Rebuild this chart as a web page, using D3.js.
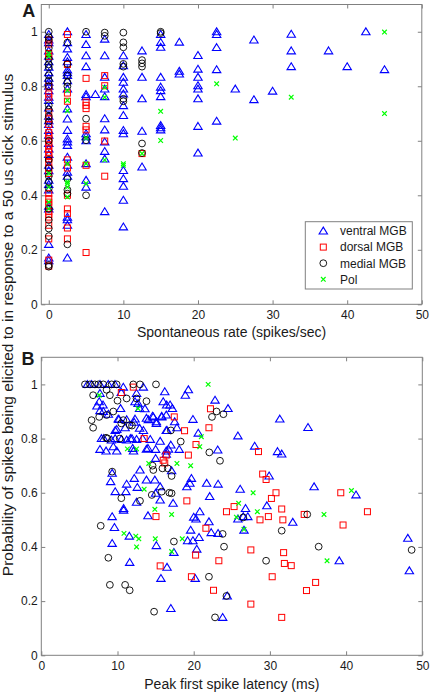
<!DOCTYPE html>
<html><head><meta charset="utf-8">
<script src="https://cdn.jsdelivr.net/npm/d3@7"></script>
<style>body{margin:0;background:#fff}svg{display:block}text{font-family:"Liberation Sans",Arial,sans-serif;fill:#1a1a1a}</style>
</head><body><svg id="c" width="430" height="695"></svg>
<script>
// ---------- DATA ----------
const seriesNames = ["ventral MGB","dorsal MGB","medial MGB","Pol"];
const xTicks = [0,10,20,30,40,50];
const yTicks = [0,0.2,0.4,0.6,0.8,1];
const xLabelA = "Spontaneous rate (spikes/sec)";
const xLabelB = "Peak first spike latency (ms)";
const yLabel = "Probability of spikes being elicited to in response to a 50 us click stimulus";

// Panel A: [spontaneous rate, [probabilities...]]
const aVentral = [
 [0,[0.99,0.97,0.96,0.93,0.91,0.89,0.87,0.85,0.83,0.815,0.8,0.784,0.76,0.748,0.72,0.69,0.674,0.66,0.638,0.62,0.59,0.57,0.55,0.51,0.49,0.455,0.44,0.42,0.36,0.35,0.22,0.17,0.16]],
 [2.5,[1.0,0.96,0.937,0.906,0.89,0.86,0.85,0.84,0.82,0.79,0.717,0.68,0.638,0.607,0.596,0.583,0.54,0.51,0.485,0.47,0.32,0.31,0.29,0.17]],
 [5,[0.99,0.953,0.912,0.872,0.77,0.762,0.626,0.615,0.60,0.516,0.455,0.43]],
 [6.25,[0.77]],
 [7.5,[0.973,0.912,0.833,0.79,0.762,0.681,0.64,0.596,0.561,0.533,0.34]],
 [10,[0.912,0.875,0.833,0.815,0.79,0.772,0.729,0.693,0.638,0.626,0.491,0.461,0.433,0.382,0.284]],
 [12.5,[0.93,0.833,0.754,0.635,0.504]],
 [15,[0.99,0.961,0.943,0.833,0.797,0.784,0.762,0.656,0.648,0.64]],
 [17.5,[0.962,0.855,0.845]],
 [20,[0.913,0.863,0.833,0.802,0.79,0.754,0.653,0.555]],
 [22.5,[1.0,0.99,0.942,0.861,0.672]],
 [25,[0.79]],[27.5,[0.97,0.751]],[30,[0.782]],[32.5,[0.991,0.93,0.872]],
 [37.5,[0.93]],[40,[0.872]],[42.5,[1.0]],[45,[0.861]]
];
const aDorsal = [
 [0,[0.97,0.955,0.92,0.91,0.8,0.772,0.76,0.705,0.68,0.66,0.63,0.62,0.607,0.595,0.583,0.57,0.558,0.546,0.534,0.52,0.5,0.48,0.406,0.388,0.375,0.363,0.34,0.33,0.32,0.29,0.24,0.162,0.14]],
 [2.5,[0.99,0.88,0.775,0.745,0.53,0.5,0.40,0.35,0.333,0.28,0.24]],
 [5,[0.829,0.742,0.73,0.718,0.653,0.64,0.51,0.19]],
 [7.5,[0.839,0.802,0.599,0.47]],
 [12.5,[0.553]]
];
const aMedial = [
 [0,[1.0,0.98,0.97,0.94,0.9,0.88,0.87,0.84,0.82,0.8,0.73,0.715,0.69,0.67,0.6,0.53,0.5,0.47,0.45,0.425,0.35,0.309,0.278,0.25,0.144,0.138]],
 [2.5,[0.96,0.882,0.84,0.815,0.80,0.46,0.42,0.406,0.22]],
 [5,[1.0,0.681,0.602,0.40]],
 [7.5,[0.997,0.985]],
 [10,[0.997,0.961,0.943,0.882,0.872,0.754,0.745]],
 [12.5,[0.896,0.884,0.872,0.59,0.555]],
 [15,[1.0,0.995]]
];
const aPol = [
 [0,[0.92,0.91,0.48,0.43,0.375,0.351]],
 [2.5,[0.784,0.748,0.71,0.516,0.45,0.443,0.43,0.394]],
 [5,[0.61,0.516,0.443]],
 [7.5,[0.796,0.76,0.53]],
 [10,[0.516,0.51]],
 [12.5,[0.553]],
 [15,[0.708,0.601]],
 [22.5,[0.809]],[25,[0.61]],[32.5,[0.76]],[45,[0.999,0.7]]
];

// Panel B: [latency ms, probability]
const bVentral = [
 [6.04,1.0],[6.6,1.0],[7.7,1.0],[8.79,1.0],[9.67,1.0],[10.76,0.99],[13.39,0.99],[7.7,0.967],[10.5,0.97],[12.5,0.967],[12.3,0.936],[16.2,0.973],[19.3,0.98],[18.9,0.96],
 [8.1,0.924],[7.7,0.903],[8.14,0.9],[12.7,0.93],[12.9,0.911],[13.6,0.91],[10.1,0.872],[12.3,0.872],[13.8,0.875],[14.7,0.88],[15.1,0.862],[15.8,0.88],[16.0,0.936],[16.45,0.924],[17.2,0.911],[19.9,0.871],
 [9.7,0.83],[11.0,0.84],[12.9,0.838],[13.4,0.83],[15.1,0.856],[16.4,0.83],[17.8,0.84],[20.6,0.82],
 [7.9,0.8],[9.7,0.8],[11.7,0.8],[12.5,0.797],[14.3,0.797],[15.6,0.79],[9.45,0.77],[7.7,0.76],[8.5,0.754],[9.9,0.754],[12.1,0.754],[13.8,0.761],[15.0,0.76],[16.4,0.754],[17.0,0.776],[18.1,0.76],
 [15.0,0.727],[16.4,0.742],[12.95,0.684],[9.3,0.672],[17.1,0.681],[9.1,0.641],[11.2,0.632],[12.6,0.62],[13.8,0.647],[14.9,0.647],[15.6,0.622],[19.1,0.622],[19.7,0.653],[19.5,0.635],[21.7,0.635],[12.2,0.653],
 [15.0,0.598],[17.3,0.561],[15.6,0.573],[11.1,0.604],[9.7,0.604],[10.8,0.542],[12.5,0.565],[20.8,0.53],[22.1,0.586],[14.0,0.515],[20.0,0.51],
 [10.4,0.911],[10.2,0.871],[11.2,0.87],[12.2,0.86],[14.05,0.87],[14.6,0.883],[15.8,0.883],[16.5,0.83],[17.5,0.862],[9.9,0.834],[8.2,0.8],[9.2,0.795],[10.5,0.797],[11.2,0.795],[11.9,0.8],[13.3,0.8],[12.0,0.764],[14.0,0.764],[16.7,0.761],[16.4,0.887],[16.9,0.924],[7.6,0.936],[7.3,0.92],[8.8,0.89],
 [9.3,0.512],[10.8,0.536],[9.6,0.472],[11.55,0.44],[9.3,0.413],[11.6,0.343],[15.1,0.405],[17.4,0.38],[16.5,0.325],[15.7,0.284],[17.0,0.173],[19.2,0.423],[19.6,0.462],[19.9,0.423],[20.3,0.503],[20.4,0.392],[20.7,0.435],[22.0,0.493],[22.3,0.453],[20.2,0.284],
 [22.8,0.942],[24.5,0.911],[31.3,0.872],[35.0,0.841],[25.8,0.81],[23.15,0.758],[28.0,0.772],[31.0,0.752],[31.55,0.743],[29.9,0.662],[23.2,0.632],[26.1,0.613],[35.8,0.622],[41.3,0.592],[26.8,0.542],[29.6,0.552],[26.5,0.512],
 [25.8,0.503],[27.1,0.512],[33.0,0.491],[26.6,0.462],[23.2,0.45],[48.1,0.432],[39.1,0.349],[48.3,0.312],[24.4,0.219],[23.8,0.14]
];
const bDorsal = [
 [10.5,0.97],[12.07,0.99],[17.45,0.88],[18.8,0.829],[13.5,0.8],[20.3,0.778],[16.4,0.739],[16.0,0.72],[16.2,0.71],[19.3,0.739],[19.1,0.57],[15.05,0.512],
 [22.2,0.91],[22.0,0.84],[15.6,0.33],[20.25,0.37],[21.6,0.469],[19.7,0.29],[22.6,0.24],
 [28.5,0.752],[29.05,0.669],[29.5,0.649],[30.8,0.6],[39.3,0.6],[30.2,0.579],[25.3,0.549],[31.55,0.54],[24.3,0.53],[29.8,0.512],[34.5,0.52],[42.8,0.53],
 [28.7,0.5],[31.7,0.5],[39.6,0.481],[27.5,0.389],[31.8,0.379],[23.3,0.349],[31.9,0.339],[32.8,0.331],[30.3,0.29],[36.0,0.269],[34.8,0.239],[27.5,0.189],[31.55,0.14]
];
const bMedial = [
 [5.73,1.0],[6.39,1.0],[7.04,1.0],[7.48,1.0],[8.14,1.0],[9.23,1.0],[9.89,1.0],[12.07,1.0],[12.95,1.0],[15.05,1.0],
 [6.8,0.96],[8.57,0.98],[9.0,0.96],[11.2,0.948],[12.5,0.948],[13.8,0.938],[10.0,0.94],[9.45,0.9],[8.57,0.887],[7.6,0.88],[6.6,0.868],[6.8,0.84],[10.76,0.868],[10.5,0.856],[11.6,0.85],[11.9,0.848],[17.0,0.83],[8.5,0.803],[8.7,0.8],[10.3,0.8],[18.3,0.789],[22.05,0.749],
 [14.6,0.7],[14.7,0.684],[15.9,0.69],[16.6,0.69],[9.3,0.678],[17.1,0.662],[14.5,0.592],[15.8,0.604],[16.8,0.6],[17.1,0.598],[10.5,0.58],[12.95,0.57],
 [22.4,0.88],[23.0,0.9],[23.9,0.89],[23.45,0.718],
 [7.8,0.478],[8.8,0.36],[9.0,0.26],[11.0,0.26],[11.6,0.24],[14.8,0.161],[17.4,0.42],[22.0,0.29],[22.8,0.14],
 [26.5,0.509],[34.9,0.52],[31.55,0.46],[23.8,0.448],[23.98,0.401],[36.4,0.401],[48.6,0.389],[29.5,0.349],[24.3,0.219]
];
const bPol = [
 [21.9,1.0],[12.7,0.911],[7.6,0.96],[21.0,0.807],[11.3,0.762],[12.5,0.762],[20.8,0.77],[14.1,0.708],[17.8,0.708],[19.6,0.7],[13.5,0.613],[14.9,0.539],[17.1,0.52],
 [10.85,0.45],[12.4,0.44],[12.8,0.43],[12.5,0.40],[14.96,0.43],[17.1,0.383],[18.5,0.43],
 [27.8,0.6],[40.7,0.608],[25.9,0.561],[28.35,0.53],[37.1,0.52],[26.6,0.465],[37.5,0.349],[25.6,0.51]
];

// ---------- DRAWING ----------
const svg = d3.select("#c");
const AX = "#808080";
const colors = ["#0000ff","#ff0000","#000000","#00ff00"];
const shapes = ["tri","sq","circ","x"];

function marker(g, shape, color){
  if(shape==="tri") g.append("path").attr("d","M0,-3.9L4.2,3L-4.2,3Z").attr("fill","none").attr("stroke",color).attr("stroke-width",1.1);
  else if(shape==="sq") g.append("rect").attr("x",-3).attr("y",-3).attr("width",6).attr("height",6).attr("fill","none").attr("stroke",color).attr("stroke-width",1);
  else if(shape==="circ") g.append("circle").attr("r",3.4).attr("fill","none").attr("stroke",color).attr("stroke-width",0.9);
  else g.append("path").attr("d","M-2.3,-2.3L2.3,2.3M-2.3,2.3L2.3,-2.3").attr("stroke",color).attr("stroke-width",1.2);
}

function panel(xs, ys, series, letter, letterPos, xlab, xlabY){
  const [x0,x1] = xs.range(), [y0,y1] = ys.range();
  const g = svg.append("g");
  g.append("rect").attr("x",x0).attr("y",y1).attr("width",x1-x0).attr("height",y0-y1)
    .attr("fill","none").attr("stroke",AX).attr("stroke-width",1);
  const style = sel => { sel.select(".domain").remove(); sel.selectAll("line").attr("stroke",AX);
    sel.selectAll("text").attr("font-size",12).attr("fill","#1a1a1a").attr("font-family",'"Liberation Sans",Arial,sans-serif'); };
  g.append("g").attr("transform",`translate(0,${y0})`).call(d3.axisBottom(xs).tickValues(xTicks).tickSizeInner(-4).tickSizeOuter(0).tickPadding(6).tickFormat(d3.format("d"))).call(style);
  g.append("g").attr("transform",`translate(0,${y1})`).call(d3.axisTop(xs).tickValues(xTicks).tickSizeInner(-4).tickSizeOuter(0).tickFormat("")).call(style);
  g.append("g").attr("transform",`translate(${x0},0)`).call(d3.axisLeft(ys).tickValues(yTicks).tickSizeInner(-4).tickSizeOuter(0).tickPadding(3.5).tickFormat(d=>String(d))).call(style);
  g.append("g").attr("transform",`translate(${x1},0)`).call(d3.axisRight(ys).tickValues(yTicks).tickSizeInner(-4).tickSizeOuter(0).tickFormat("")).call(style);
  series.forEach((pts,i)=>{
    const sg = g.append("g");
    pts.forEach(p=>{
      const m = sg.append("g").attr("transform",`translate(${xs(p[0])},${ys(p[1])})`);
      marker(m, shapes[i], colors[i]);
    });
  });
  g.append("text").attr("x",letterPos[0]).attr("y",letterPos[1]).attr("font-size",18).attr("font-weight","bold").attr("fill","#000").text(letter);
  g.append("text").attr("x",(x0+x1)/2).attr("y",xlabY).attr("text-anchor","middle").attr("font-size",14).text(xlab);
  return g;
}

const flat = cols => cols.flatMap(([x,ys])=>ys.map(y=>[x,y]));

const xA = d3.scaleLinear([-1,50],[41.3,421.8]);
const yA = d3.scaleLinear([0,1.1],[304.3,4.5]);
panel(xA, yA, [flat(aVentral),flat(aDorsal),flat(aMedial),flat(aPol)], "A", [22.3,16.8], xLabelA, 336.5);

const xB = d3.scaleLinear([0,50],[41.3,422.3]);
const yB = d3.scaleLinear([0,1.1],[655.3,357.3]);
panel(xB, yB, [bVentral,bDorsal,bMedial,bPol], "B", [21.5,365.2], xLabelB, 689);

// legend
const lg = svg.append("g");
lg.append("rect").attr("x",305.3).attr("y",221.7).attr("width",107).attr("height",67.3).attr("fill","#fff").attr("stroke",AX).attr("stroke-width",1);
seriesNames.forEach((n,i)=>{
  const yy = 231 + i*16.1;
  const m = lg.append("g").attr("transform",`translate(323.3,${yy})`);
  marker(m, shapes[i], colors[i]);
  lg.append("text").attr("x",340).attr("y",yy).attr("dy","0.36em").attr("font-size",12).text(n);
});

svg.append("text").attr("transform","translate(13,325) rotate(-90)").attr("text-anchor","middle").attr("font-size",15.5).text(yLabel);
</script></body></html>
